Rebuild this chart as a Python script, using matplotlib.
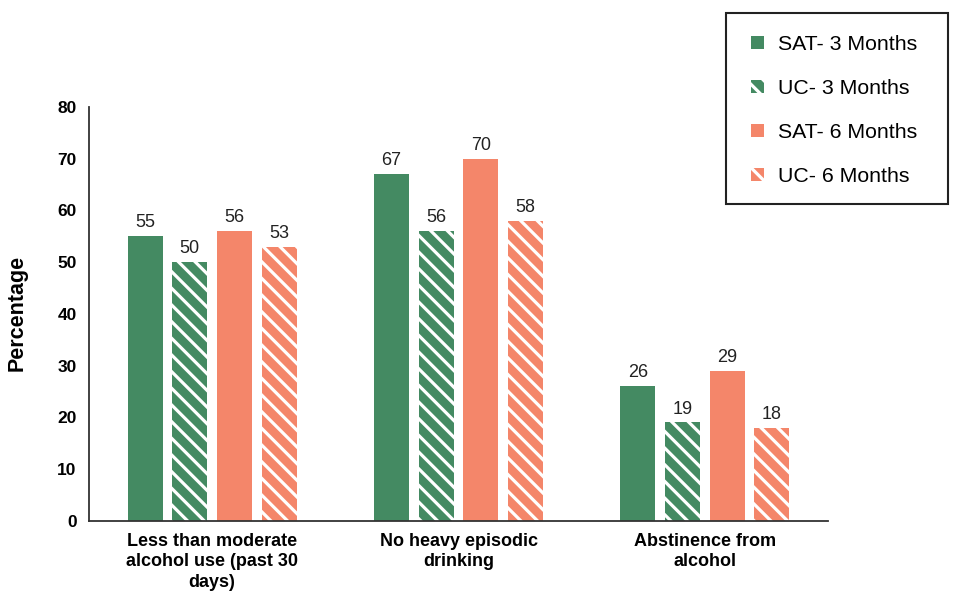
import matplotlib
matplotlib.use('Agg')
import matplotlib.pyplot as plt
from matplotlib.patches import Rectangle
import numpy as np

plt.rcParams['font.family'] = ['Liberation Sans', 'DejaVu Sans']
plt.rcParams['hatch.linewidth'] = 2.3
plt.rcParams['hatch.color'] = 'white'

# 数据
categories = ['Less than moderate\nalcohol use (past 30\ndays)',
              'No heavy episodic\ndrinking',
              'Abstinence from\nalcohol']
series_names = ['SAT- 3 Months', 'UC- 3 Months', 'SAT- 6 Months', 'UC- 6 Months']
sat_3 = [55, 67, 26]
uc_3 = [50, 56, 19]
sat_6 = [56, 70, 29]
uc_6 = [53, 58, 18]
y_ticks = [0, 10, 20, 30, 40, 50, 60, 70, 80]

green = '#448A62'
salmon = '#F4866A'
colors = [green, green, salmon, salmon]
hatches = [None, '\\\\', None, '\\\\']
values = [sat_3, uc_3, sat_6, uc_6]

W, H = 960, 603
fig = plt.figure(figsize=(W / 100, H / 100), dpi=100)
ax = fig.add_axes([89 / W, 1 - 520.7 / H, (828 - 89) / W, (520.7 - 107) / H])

x = np.arange(len(categories))
pitch = 0.181
width = 0.142
handles = []
for i, (vals, col, h, name) in enumerate(zip(values, colors, hatches, series_names)):
    pos = x + (i - 1.5) * pitch
    if h is None:
        bars = ax.bar(pos, vals, width, color=col, label=name, linewidth=0)
    else:
        bars = ax.bar(pos, vals, width, facecolor=col, edgecolor='white',
                      hatch=h, linewidth=0, label=name)
    ax.bar_label(bars, labels=[str(v) for v in vals], padding=3.5, fontsize=13, color='#222222')
    handles.append(bars)

ax.set_xlim(-0.5, 2.5)
ax.set_ylim(0, 80)
ax.set_yticks(y_ticks)
ax.set_yticklabels([str(t) for t in y_ticks], fontweight='bold', fontsize=12.5)
ax.set_xticks(x)
ax.set_xticklabels(categories, fontweight='bold', fontsize=13, linespacing=1.25)
ax.tick_params(axis='y', length=0, pad=9)
ax.tick_params(axis='x', length=0, pad=9)
for s in ['top', 'right']:
    ax.spines[s].set_visible(False)
for s in ['left', 'bottom']:
    ax.spines[s].set_color('#333333')
    ax.spines[s].set_linewidth(1.3)

fig.text(17 / W, 1 - 313 / H, 'Percentage', rotation=90, fontweight='bold',
         fontsize=15.5, ha='center', va='center')

# 图例外框单独画
box = Rectangle((726 / W, 1 - 204 / H), (948 - 726) / W, (204 - 13) / H,
                transform=fig.transFigure, facecolor='white', edgecolor='#222222',
                linewidth=1.5)
fig.patches.append(box)
leg = fig.legend(handles=handles, labels=series_names, loc='upper left',
                 bbox_to_anchor=(751 / W, 1 - 35 / H), fontsize=15.3,
                 frameon=False, handlelength=0.6, handleheight=0.6, handletextpad=0.65,
                 labelspacing=1.18, borderpad=0, borderaxespad=0)

fig.savefig('out.png', dpi=100)
